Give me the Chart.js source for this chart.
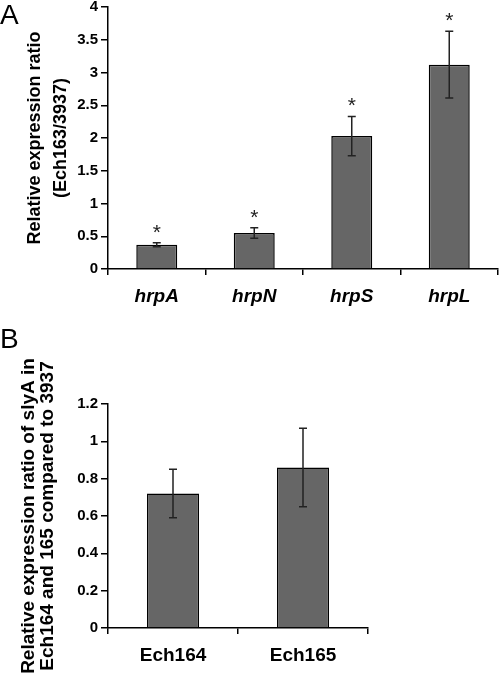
<!DOCTYPE html>
<html>
<head>
<meta charset="utf-8">
<script src="https://cdn.jsdelivr.net/npm/chart.js@4/dist/chart.umd.min.js"></script>
<style>
  body { margin: 0; background: #fff; }
  .wrap { position: relative; width: 500px; height: 679px; overflow: hidden; }
  canvas { position: absolute; left: 0; }
  #chartA { top: 0; }
  #chartB { top: 330px; }
  .panel { position: absolute; left: 0; font: 28px "Liberation Sans", Arial, sans-serif; color: #000; z-index: 2; }
</style>
</head>
<body>
<div class="wrap">
  <div class="panel" style="top:-1px">A</div>
  <div class="panel" style="top:323px">B</div>
  <canvas id="chartA" width="500" height="330"></canvas>
  <canvas id="chartB" width="500" height="349"></canvas>
</div>
<script>
// panel A: hrp genes, Ech163 vs 3937
const geneLabels = ['hrpA', 'hrpN', 'hrpS', 'hrpL']
const geneRatios = [0.37, 0.55, 2.03, 3.12]
const geneErrors = [0.03, 0.08, 0.30, 0.51]
const geneStars = [true, true, true, true]
const geneTicks = [0, 4, 0.5] // min, max, step

// panel B: slyA in Ech164 / Ech165
const strainLabels = ['Ech164', 'Ech165']
const slyARatios = [0.72, 0.86]
const slyAErrors = [0.13, 0.21]
const slyATicks = [0, 1.2, 0.2]

const FONT = '"Liberation Sans", Arial, sans-serif'

// draws the error bars (and asterisks) on top of the bars
const errorBars = {
  id: 'errorBars',
  afterDatasetsDraw(chart, args, opts) {
    const ctx = chart.ctx
    const y = chart.scales.y
    const values = chart.data.datasets[0].data
    const meta = chart.getDatasetMeta(0)
    ctx.save()
    ctx.strokeStyle = '#222'
    ctx.lineWidth = 1.5
    meta.data.forEach((bar, i) => {
      const top = y.getPixelForValue(values[i] + opts.errors[i])
      const bot = y.getPixelForValue(values[i] - opts.errors[i])
      ctx.beginPath()
      ctx.moveTo(bar.x, top); ctx.lineTo(bar.x, bot)
      ctx.moveTo(bar.x - 4, top); ctx.lineTo(bar.x + 4, top)
      ctx.moveTo(bar.x - 4, bot); ctx.lineTo(bar.x + 4, bot)
      ctx.stroke()
      if (opts.stars && opts.stars[i]) {
        ctx.fillStyle = '#222'
        ctx.font = '21px ' + FONT
        ctx.textAlign = 'center'
        ctx.textBaseline = 'alphabetic'
        ctx.fillText('*', bar.x, top - 16 + 12)
      }
    })
    ctx.restore()
  }
}

function makeChart(el, cfg) {
  return new Chart(el, {
    type: 'bar',
    data: {
      labels: cfg.labels,
      datasets: [{
        data: cfg.values,
        backgroundColor: '#666666',
        borderColor: '#000',
        borderWidth: 1.5,
        barPercentage: cfg.barPct,
        categoryPercentage: 1
      }]
    },
    options: {
      responsive: false,
      animation: false,
      devicePixelRatio: 1,
      layout: { padding: cfg.padding },
      plugins: {
        legend: { display: false },
        tooltip: { enabled: false },
        errorBars: { errors: cfg.errors, stars: cfg.stars }
      },
      scales: {
        x: {
          grid: { drawOnChartArea: false, color: '#000', lineWidth: 1.5, tickLength: 6, tickWidth: 1.5 },
          border: { color: '#000', width: 1.5 },
          ticks: { color: '#000', padding: 10, font: { family: FONT, size: 19, weight: 'bold', style: cfg.italic ? 'italic' : 'normal' } },
          afterFit: s => { s.height = cfg.xHeight }
        },
        y: {
          min: cfg.ticks[0],
          max: cfg.ticks[1],
          ticks: {
            stepSize: cfg.ticks[2],
            color: '#000',
            padding: 3,
            font: { family: FONT, size: 15, weight: 'bold' },
            callback: v => String(Number(v.toFixed(2)))
          },
          grid: { drawOnChartArea: false, color: '#000', lineWidth: 1.5, tickLength: 7, tickWidth: 1.5 },
          border: { color: '#000', width: 1.5 },
          title: {
            display: true,
            text: cfg.title,
            color: '#000',
            font: { family: FONT, size: cfg.titleSize, weight: 'bold', lineHeight: cfg.titleLH },
            padding: { top: cfg.titlePad, bottom: 0 }
          },
          afterFit: s => { s.width = 108; s.paddingTop = 0; s.paddingBottom = 0 }
        }
      }
    },
    plugins: [errorBars]
  })
}

makeChart(document.getElementById('chartA'), {
  labels: geneLabels, values: geneRatios, errors: geneErrors, stars: geneStars,
  ticks: geneTicks, barPct: 0.42, italic: true,
  padding: { top: 7, right: 2, left: 0, bottom: 0 }, xHeight: 61,
  title: ['Relative expression ratio', '(Ech163/3937)'], titleSize: 18, titleLH: 1.45, titlePad: 22
})

makeChart(document.getElementById('chartB'), {
  labels: strainLabels, values: slyARatios, errors: slyAErrors, stars: null,
  ticks: slyATicks, barPct: 0.4, italic: false,
  padding: { top: 74, right: 132, left: 0, bottom: 0 }, xHeight: 51,
  title: ['Relative expression ratio of slyA in', 'Ech164 and 165 compared to 3937'], titleSize: 19, titleLH: 1.0, titlePad: 19
})
</script>
</body>
</html>
